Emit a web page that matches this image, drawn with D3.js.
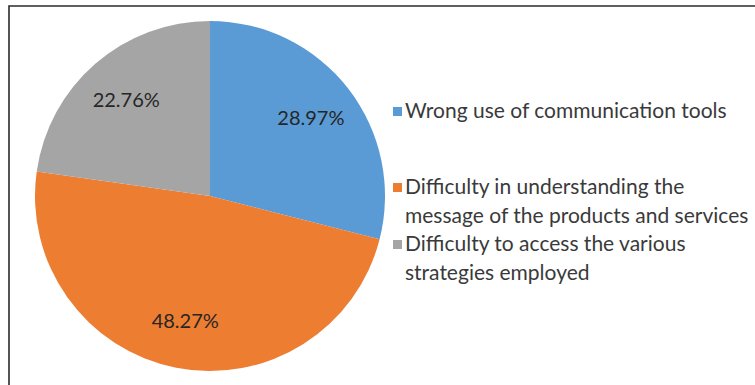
<!DOCTYPE html>
<html>
<head>
<meta charset="utf-8">
<script src="https://cdn.jsdelivr.net/npm/d3@7"></script>
<style>
  body { margin: 0; background: #fff; }
  svg { display: block; font-family: Lato, "Open Sans", sans-serif; }
</style>
</head>
<body>
<svg id="chart" width="755" height="385"></svg>
<script>
// --- Data ---
const categories = [
    "Wrong use of communication tools",
    "Difficulty in understanding the message of the products and services",
    "Difficulty to access the various strategies employed"
];
const values = [28.97, 48.27, 22.76];
const legendLines = [
    ["Wrong use of communication tools"],
    ["Difficulty in understanding the", "message of the products and services"],
    ["Difficulty to access the various", "strategies employed"]
];
const colors = ["#5B9BD5", "#ED7D31", "#A5A5A5"];

// --- Setup ---
const svg = d3.select("#chart");
const cx = 210, cy = 196, radius = 175;

// frame (only top and left edges show in the picture)
svg.append("path")
    .attr("d", "M9,385 L9,6 L755,6")
    .attr("fill", "none")
    .attr("stroke", "#2b2b2b")
    .attr("stroke-width", 1.6);

const color = d3.scaleOrdinal().domain(categories).range(colors);

const pie = d3.pie().sort(null).value(d => d.value);
const arcs = pie(categories.map((c, i) => ({ name: c, value: values[i] })));

const arc = d3.arc().innerRadius(0).outerRadius(radius);
const labelArc = d3.arc().innerRadius(radius * 0.73).outerRadius(radius * 0.73);

const g = svg.append("g").attr("transform", `translate(${cx},${cy})`);

g.selectAll("path.slice")
    .data(arcs)
    .join("path")
    .attr("class", "slice")
    .attr("d", arc)
    .attr("fill", d => color(d.data.name));

g.selectAll("text.pct")
    .data(arcs)
    .join("text")
    .attr("class", "pct")
    .attr("transform", d => `translate(${labelArc.centroid(d)})`)
    .attr("text-anchor", "middle")
    .attr("dy", "0.35em")
    .attr("font-size", 20)
    .attr("fill", "#262626")
    .text(d => d3.format(".2f")(d.data.value) + "%");

// --- Legend ---
const legendTops = [118, 194, 251];
const legend = svg.append("g");
const item = legend.selectAll("g")
    .data(categories)
    .join("g")
    .attr("transform", (d, i) => `translate(393,${legendTops[i]})`);

item.append("rect")
    .attr("x", 0)
    .attr("y", -11)
    .attr("width", 9)
    .attr("height", 9)
    .attr("fill", d => color(d));

item.append("text")
    .attr("x", 12)
    .attr("font-size", 21)
    .attr("fill", "#3a3a3a")
    .selectAll("tspan")
    .data((d, i) => legendLines[i])
    .join("tspan")
    .attr("x", 12)
    .attr("dy", (d, j) => j === 0 ? 0 : 29)
    .text(d => d);
</script>
</body>
</html>
